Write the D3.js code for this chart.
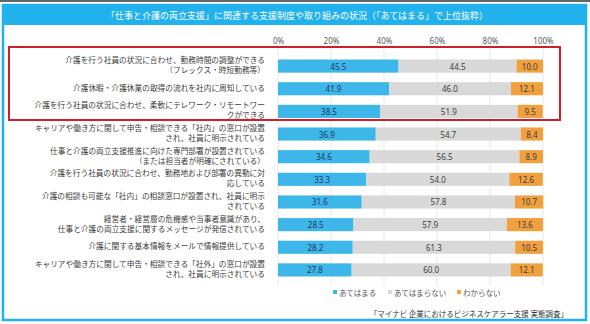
<!DOCTYPE html>
<html>
<head>
<meta charset="utf-8">
<script src="https://cdn.jsdelivr.net/npm/d3@7"></script>
<style>
  body { margin: 0; background: #fff; }
  text { font-family: "Noto Sans CJK JP", "Noto Sans", sans-serif; }
</style>
</head>
<body>
<div class="chart"></div>
<script>
var items = [
  '介護を行う社員の状況に合わせ、勤務時間の調整ができる\n（フレックス・時短勤務等）',
  '介護休暇・介護休業の取得の流れを社内に周知している',
  '介護を行う社員の状況に合わせ、柔軟にテレワーク・リモートワー\nクができる',
  'キャリアや働き方に関して申告・相談できる「社内」の窓口が設置\nされ、社員に明示されている',
  '仕事と介護の両立支援推進に向けた専門部署が設置されている\n（または担当者が明確にされている）',
  '介護を行う社員の状況に合わせ、勤務地および部署の異動に対\n応している',
  '介護の相談も可能な「社内」の相談窓口が設置され、社員に明示\nされている',
  '経営者・経営層の危機感や当事者意識があり、\n仕事と介護の両立支援に関するメッセージが発信されている',
  '介護に関する基本情報をメールで情報提供している',
  'キャリアや働き方に関して申告・相談できる「社外」の窓口が設置\nされ、社員に明示されている'
];
var applies    = [45.5, 41.9, 38.5, 36.9, 34.6, 33.3, 31.6, 28.5, 28.2, 27.8];
var notApplies = [44.5, 46.0, 51.9, 54.7, 56.5, 54.0, 57.8, 57.9, 61.3, 60.0];
var unknown    = [10.0, 12.1, 9.5, 8.4, 8.9, 12.6, 10.7, 13.6, 10.5, 12.1];
var seriesNames = ['あてはまる', 'あてはまらない', 'わからない'];
var ticks = [0, 20, 40, 60, 80, 100];

var colors = ['#3db6e9', '#d9d9d9', '#f1a03e'];
var frame = '#21b1ec';

var svg = d3.select('.chart')
    .append('svg')
    .attr('width', 590)
    .attr('height', 324);

// frame and title bar
svg.append('rect').attr('x', 0).attr('y', 0).attr('width', 590).attr('height', 2).attr('fill', '#666');
svg.append('rect')
    .attr('x', 3).attr('y', 5).attr('width', 583).attr('height', 315)
    .attr('fill', '#fff').attr('stroke', frame).attr('stroke-width', 2.5);
svg.append('rect')
    .attr('x', 3).attr('y', 5).attr('width', 583).attr('height', 20)
    .attr('fill', frame);
svg.append('text')
    .attr('x', 297).attr('y', 15.5)
    .attr('text-anchor', 'middle').attr('dominant-baseline', 'central')
    .attr('font-size', 9).attr('fill', '#fff')
    .text('「仕事と介護の両立支援」に関連する支援制度や取り組みの状況（「あてはまる」で上位抜粋）');

var x = d3.scaleLinear().domain([0, 100]).range([278, 543]);
var y = d3.scaleBand().domain(d3.range(items.length)).range([50, 286]).padding(0.42);

// gridlines
svg.append('g').selectAll('line')
    .data(ticks)
    .enter().append('line')
    .attr('x1', function(d) { return x(d); })
    .attr('x2', function(d) { return x(d); })
    .attr('y1', 48).attr('y2', 286)
    .attr('stroke', '#e8e8e8');

// top axis
var axis = svg.append('g')
    .attr('transform', 'translate(0,44)')
    .call(d3.axisTop(x).tickValues(ticks).tickSize(0).tickPadding(0).tickFormat(function(d) { return d + '%'; }));
axis.select('.domain').remove();
axis.selectAll('text')
    .attr('font-size', 8).attr('fill', '#595959')
    .style('font-family', '"Noto Sans", sans-serif');

// stacked bars
var rows = items.map(function(name, i) {
  var vals = [applies[i], notApplies[i], unknown[i]];
  var start = 0;
  return vals.map(function(v, k) {
    var seg = { row: i, k: k, x0: start, x1: start + v, value: v };
    start += v;
    return seg;
  });
});
var segs = [].concat.apply([], rows);

svg.append('g').selectAll('rect')
    .data(segs)
    .enter().append('rect')
    .attr('x', function(d) { return x(d.x0); })
    .attr('y', function(d) { return y(d.row); })
    .attr('width', function(d) { return x(d.x1) - x(d.x0); })
    .attr('height', y.bandwidth())
    .attr('fill', function(d) { return colors[d.k]; });

svg.append('g').selectAll('text')
    .data(segs)
    .enter().append('text')
    .attr('x', function(d) { return (x(d.x0) + x(d.x1)) / 2; })
    .attr('y', function(d) { return y(d.row) + y.bandwidth() / 2; })
    .attr('text-anchor', 'middle').attr('dominant-baseline', 'central')
    .attr('font-size', 8)
    .attr('fill', function(d) { return d.k == 0 ? '#1d3a5a' : '#404040'; })
    .style('font-family', '"Noto Sans", sans-serif')
    .text(function(d) { return d.value.toFixed(1); });

// category labels
var labels = svg.append('g').selectAll('text')
    .data(items)
    .enter().append('text')
    .attr('text-anchor', 'end')
    .attr('font-size', 7.7)
    .attr('fill', '#404040');
labels.each(function(d, i) {
  var lines = d.split('\n');
  var cy = y(i) + y.bandwidth() / 2 - 1.5;
  var top = cy - (lines.length - 1) * 4.9;
  var t = d3.select(this);
  lines.forEach(function(line, j) {
    t.append('tspan')
        .attr('x', 265)
        .attr('y', top + j * 9.8)
        .attr('dominant-baseline', 'central')
        .text(line);
  });
});

// highlight box
svg.append('rect')
    .attr('x', 9).attr('y', 47).attr('width', 551).attr('height', 73)
    .attr('fill', 'none').attr('stroke', '#cf1f2b').attr('stroke-width', 2);

// legend
var legendX = [333, 388, 457];
var legend = svg.append('g').selectAll('g')
    .data(seriesNames)
    .enter().append('g')
    .attr('transform', function(d, i) { return 'translate(' + legendX[i] + ',292)'; });
legend.append('rect')
    .attr('x', 0).attr('y', -2).attr('width', 4).attr('height', 4)
    .attr('fill', function(d, i) { return colors[i]; });
legend.append('text')
    .attr('x', 6).attr('y', 0)
    .attr('dominant-baseline', 'central')
    .attr('font-size', 7.5).attr('fill', '#595959')
    .text(function(d) { return d; });

// source
svg.append('text')
    .attr('x', 568).attr('y', 313)
    .attr('text-anchor', 'end').attr('dominant-baseline', 'central')
    .attr('font-size', 7.5).attr('fill', '#333')
    .text('「マイナビ 企業におけるビジネスケアラー支援 実態調査」');
</script>
</body>
</html>
